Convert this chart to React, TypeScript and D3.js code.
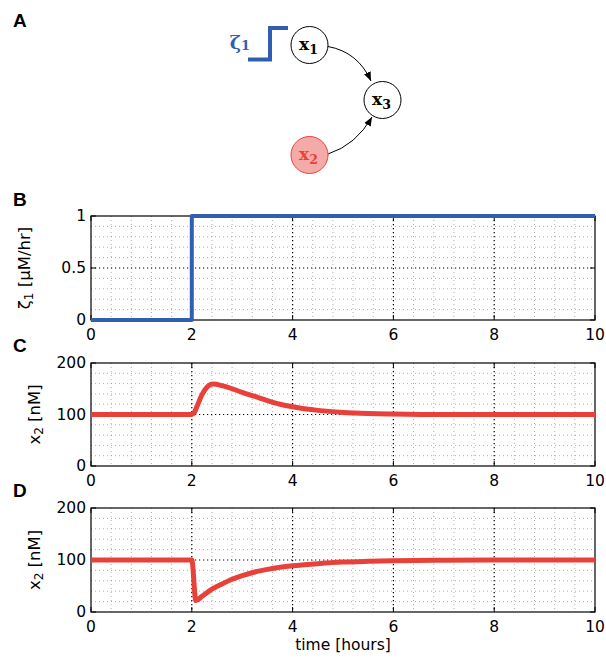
import React from 'react';
import * as d3 from 'd3';

// time axis ticks
const X_TICKS = [0, 2, 4, 6, 8, 10];

// panel B: step input zeta_1
const T_STEP = [0, 2, 2, 10];
const ZETA = [0, 0, 1, 1];
const B_TICKS = [0, 0.5, 1];

// panel C: x2 response (rise then relax)
const T_UP = [0, 2, 2.05, 2.1, 2.2, 2.3, 2.42, 2.6, 2.8, 3, 3.25, 3.5, 3.75, 4, 4.5, 5, 5.5, 6, 7, 8, 10];
const X2_UP = [100, 100, 104, 115, 138, 153, 159, 156, 150, 143, 135, 127, 120, 115, 108, 104, 102, 101, 100, 100, 100];

// panel D: x2 response (drop then recover)
const T_DOWN = [0, 2, 2.08, 2.2, 2.4, 2.6, 2.8, 3, 3.25, 3.5, 3.75, 4, 4.5, 5, 5.5, 6, 7, 8, 10];
const X2_DOWN = [100, 100, 22, 30, 44, 54, 63, 70, 77, 82, 86, 89, 93, 96, 97.5, 98.5, 99.5, 100, 100];
const CD_TICKS = [0, 100, 200];

const BLUE = '#2f5fae';
const RED = '#e8413a';
const FONT = '"DejaVu Sans", sans-serif';

const x = d3.scaleLinear().domain([0, 10]).range([91, 595]);

const isMultiple = (v: number, s: number) => Math.abs(v / s - Math.round(v / s)) < 1e-6;

type PanelProps = {
  top: number;
  bottom: number;
  yMax: number;
  yTicks: number[];
  ts: number[];
  vs: number[];
  color: string;
  width: number;
  smooth: boolean;
  label: React.ReactNode;
  labelX: number;
  fmt: (v: number) => string;
};

function Panel({ top, bottom, yMax, yTicks, ts, vs, color, width, smooth, label, labelX, fmt }: PanelProps) {
  const y = d3.scaleLinear().domain([0, yMax]).range([bottom, top]);
  const [x0, x1] = x.range();
  const minorX = d3.range(0.4, 10, 0.4).filter(v => !isMultiple(v, 2));
  const minorY = d3.range(1, 10).map(i => (yMax * i) / 10).filter(v => !isMultiple(v, yMax / 2));
  const pts = ts.map((t, i) => [t, vs[i]] as [number, number]);
  const line = d3.line<[number, number]>()
    .x(d => x(d[0]))
    .y(d => y(d[1]))
    .curve(smooth ? d3.curveMonotoneX : d3.curveLinear);

  return (
    <g>
      {minorX.map(v => (
        <line key={'mx' + v} x1={x(v)} x2={x(v)} y1={top} y2={bottom} stroke="#999" strokeWidth={0.8} strokeDasharray="1,3" />
      ))}
      {minorY.map(v => (
        <line key={'my' + v} x1={x0} x2={x1} y1={y(v)} y2={y(v)} stroke="#999" strokeWidth={0.8} strokeDasharray="1,3" />
      ))}
      {X_TICKS.slice(1, -1).map(v => (
        <line key={'gx' + v} x1={x(v)} x2={x(v)} y1={top} y2={bottom} stroke="#000" strokeWidth={1.2} strokeDasharray="1.2,2.8" />
      ))}
      <line x1={x0} x2={x1} y1={y(yMax / 2)} y2={y(yMax / 2)} stroke="#000" strokeWidth={1.2} strokeDasharray="1.2,2.8" />
      <rect x={x0} y={top} width={x1 - x0} height={bottom - top} fill="none" stroke="#000" strokeWidth={1.2} />
      {X_TICKS.map(v => (
        <g key={'tx' + v}>
          <line x1={x(v)} x2={x(v)} y1={bottom} y2={bottom - 5} stroke="#000" />
          <line x1={x(v)} x2={x(v)} y1={top} y2={top + 5} stroke="#000" />
          <text x={x(v)} y={bottom + 20} textAnchor="middle" fontSize={15.5} fontFamily={FONT}>{v}</text>
        </g>
      ))}
      {yTicks.map(v => (
        <g key={'ty' + v}>
          <line x1={x0} x2={x0 + 5} y1={y(v)} y2={y(v)} stroke="#000" />
          <line x1={x1} x2={x1 - 5} y1={y(v)} y2={y(v)} stroke="#000" />
          <text x={x0 - 5} y={y(v)} dy="0.35em" textAnchor="end" fontSize={15.5} fontFamily={FONT}>{fmt(v)}</text>
        </g>
      ))}
      <path d={line(pts) || ''} fill="none" stroke={color} strokeWidth={width} strokeLinejoin="round" />
      <text transform={`translate(${labelX},${(top + bottom) / 2}) rotate(-90)`} textAnchor="middle" fontSize={16.5} fontFamily={FONT}>
        {label}
      </text>
    </g>
  );
}

function Node({ cx, cy, sub, fill, stroke, color }: { cx: number; cy: number; sub: string; fill: string; stroke: string; color: string }) {
  return (
    <g>
      <circle cx={cx} cy={cy} r={18.5} fill={fill} stroke={stroke} strokeWidth={1} />
      <text x={cx - 1} y={cy + 5} textAnchor="middle" fontFamily='"DejaVu Serif", serif' fontWeight="bold" fontSize={17} fill={color}>
        x<tspan fontSize={12.5} dy={4}>{sub}</tspan>
      </text>
    </g>
  );
}

export default function App() {
  const letter = { fontFamily: '"Liberation Sans", Arial, sans-serif', fontWeight: 'bold' as const, fontSize: 19 };
  return (
    <svg width={606} height={658} style={{ position: 'absolute', left: 0, top: 0, background: '#fff' }}>
      <defs>
        <marker id="arr" viewBox="0 0 10 10" refX="10" refY="5" markerWidth="9" markerHeight="9" orient="auto" markerUnits="userSpaceOnUse">
          <path d="M0,1 L10,5 L0,9 z" fill="#000" />
        </marker>
      </defs>

      <text x={13} y={27} {...letter}>A</text>
      <text x={13} y={206} {...letter}>B</text>
      <text x={13} y={352} {...letter}>C</text>
      <text x={13} y={497} {...letter}>D</text>

      {/* network diagram */}
      <text x={240} y={49} textAnchor="middle" fontFamily='"DejaVu Serif", serif' fontWeight="bold" fontSize={19} fill={BLUE}>
        ζ<tspan fontSize={13} dy={1}>1</tspan>
      </text>
      <path d="M248,59.5 L270,59.5 L270,28 L288,28" fill="none" stroke={BLUE} strokeWidth={4} />
      <path d="M328,46.5 Q358,52 371,81" fill="none" stroke="#000" strokeWidth={1} markerEnd="url(#arr)" />
      <path d="M328,154 Q356,145 372,117" fill="none" stroke="#000" strokeWidth={1} markerEnd="url(#arr)" />
      <Node cx={309.5} cy={45} sub="1" fill="#fff" stroke="#000" color="#000" />
      <Node cx={382.5} cy={100} sub="3" fill="#fff" stroke="#000" color="#000" />
      <Node cx={309.5} cy={155} sub="2" fill="#f4aaa6" stroke={RED} color={RED} />

      <Panel top={216} bottom={320} yMax={1} yTicks={B_TICKS} ts={T_STEP} vs={ZETA} color={BLUE} width={4} smooth={false}
        labelX={30} fmt={v => String(v)}
        label={<>ζ<tspan fontSize={12} dy={3}>1</tspan><tspan dy={-3}> [μM/hr]</tspan></>} />
      <Panel top={363} bottom={466} yMax={200} yTicks={CD_TICKS} ts={T_UP} vs={X2_UP} color={RED} width={5} smooth={true}
        labelX={40} fmt={v => String(v)}
        label={<>x<tspan fontSize={12} dy={3}>2</tspan><tspan dy={-3}> [nM]</tspan></>} />
      <Panel top={508} bottom={612} yMax={200} yTicks={CD_TICKS} ts={T_DOWN} vs={X2_DOWN} color={RED} width={5} smooth={true}
        labelX={40} fmt={v => String(v)}
        label={<>x<tspan fontSize={12} dy={3}>2</tspan><tspan dy={-3}> [nM]</tspan></>} />

      <text x={343} y={650} textAnchor="middle" fontSize={15.5} fontFamily={FONT}>time [hours]</text>
    </svg>
  );
}
